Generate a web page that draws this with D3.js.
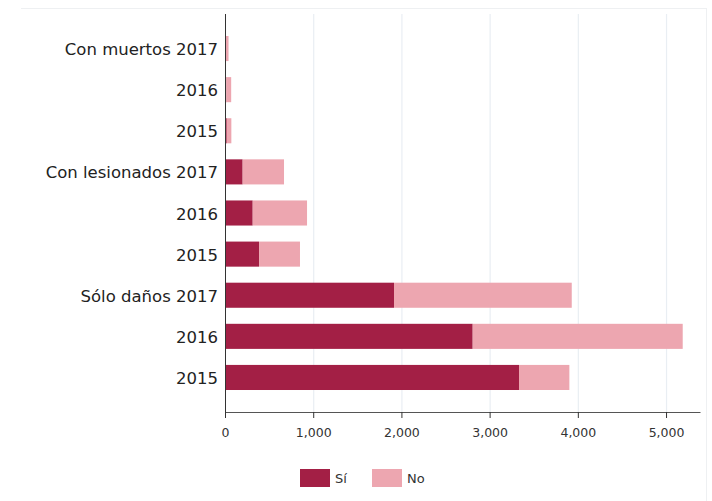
<!DOCTYPE html>
<html>
<head>
<meta charset="utf-8">
<script src="https://cdn.jsdelivr.net/npm/d3@7"></script>
<style>
  body { margin: 0; background: #fff; }
  svg { display: block; font-family: "DejaVu Sans", sans-serif; }
</style>
</head>
<body>
<div id="container"></div>
<script>
/* DATA */
const categories = ["Con muertos 2017", "2016 ", "2015 ", "Con lesionados 2017", "2016  ", "2015  ", "Sólo daños 2017", "2016", "2015"];
const si = [3, 15, 20, 200, 314, 386, 1916, 2808, 3333];
const no = [37, 55, 52, 469, 616, 464, 2015, 2381, 571];
const xTicks = [0, 1000, 2000, 3000, 4000, 5000];
const seriesNames = ["Sí", "No"];
const colors = ["#a31f45", "#eda6b0"];

/* CONSTANTS */
const width = 712;
const height = 501;
const margin = {top: 14, right: 12, bottom: 89, left: 225};

const rows = categories.map((c, i) => ({cat: c, Sí: si[i], No: no[i]}));
const stacked = d3.stack().keys(seriesNames)(rows);

/* SCALES */
const xScale = d3.scaleLinear()
  .domain([0, 5385])
  .range([margin.left, width - margin.right]);

const yScale = d3.scaleBand()
  .domain(categories)
  .range([margin.top, height - margin.bottom])
  .paddingInner(0.39)
  .paddingOuter(0.535);

const color = d3.scaleOrdinal(seriesNames, colors);

/* SVG */
const svg = d3.select("#container")
  .append("svg")
  .attr("width", width)
  .attr("height", height);

// light frame (top + right)
svg.append("line")
  .attr("x1", 21).attr("x2", 706).attr("y1", 8.5).attr("y2", 8.5)
  .attr("stroke", "#eef0f2");
svg.append("line")
  .attr("x1", 706.5).attr("x2", 706.5).attr("y1", 8).attr("y2", height)
  .attr("stroke", "#eef0f2");

// gridlines
svg.append("g")
  .selectAll("line")
  .data(xTicks.slice(1))
  .join("line")
  .attr("x1", d => xScale(d) + 0.5)
  .attr("x2", d => xScale(d) + 0.5)
  .attr("y1", margin.top)
  .attr("y2", height - margin.bottom)
  .attr("stroke", "#e9eef3")
  .attr("stroke-width", 1.2);

// bars
svg.append("g")
  .selectAll("g")
  .data(stacked)
  .join("g")
  .attr("fill", d => color(d.key))
  .selectAll("rect")
  .data(d => d)
  .join("rect")
  .attr("x", d => xScale(d[0]))
  .attr("y", d => yScale(d.data.cat))
  .attr("width", d => xScale(d[1]) - xScale(d[0]))
  .attr("height", yScale.bandwidth());

// x axis
const xAxis = d3.axisBottom(xScale)
  .tickValues(xTicks)
  .tickFormat(d3.format(","))
  .tickSize(6)
  .tickSizeOuter(0);

const gx = svg.append("g")
  .attr("transform", `translate(0, ${height - margin.bottom})`)
  .call(xAxis);
gx.select(".domain").attr("stroke", "#555");
gx.selectAll(".tick line").attr("stroke", "#333");
gx.selectAll(".tick text")
  .attr("font-size", "12.5px")
  .attr("fill", "#333")
  .attr("dy", "1.25em")
  .style("font-family", "DejaVu Sans, sans-serif");

// y axis
const gy = svg.append("g")
  .attr("transform", `translate(${margin.left}, 0)`)
  .call(d3.axisLeft(yScale).tickSize(0).tickPadding(7));
gy.select(".domain").attr("stroke", "#333").attr("d", `M0.5,${margin.top}V${height - margin.bottom}`);
gy.selectAll(".tick text")
  .attr("font-size", "16.5px")
  .attr("fill", "#222")
  .attr("dy", "0.4em")
  .text(d => d.trim())
  .style("font-family", "DejaVu Sans, sans-serif");

// legend
const legend = svg.append("g")
  .attr("transform", "translate(300, 469)");
const items = legend.selectAll("g")
  .data(seriesNames)
  .join("g")
  .attr("transform", (d, i) => `translate(${i * 72}, 0)`);
items.append("rect")
  .attr("width", 30)
  .attr("height", 18)
  .attr("fill", d => color(d));
items.append("text")
  .attr("x", 35)
  .attr("y", 9)
  .attr("dy", "0.38em")
  .attr("font-size", "13px")
  .attr("fill", "#333")
  .text(d => d);
</script>
</body>
</html>
